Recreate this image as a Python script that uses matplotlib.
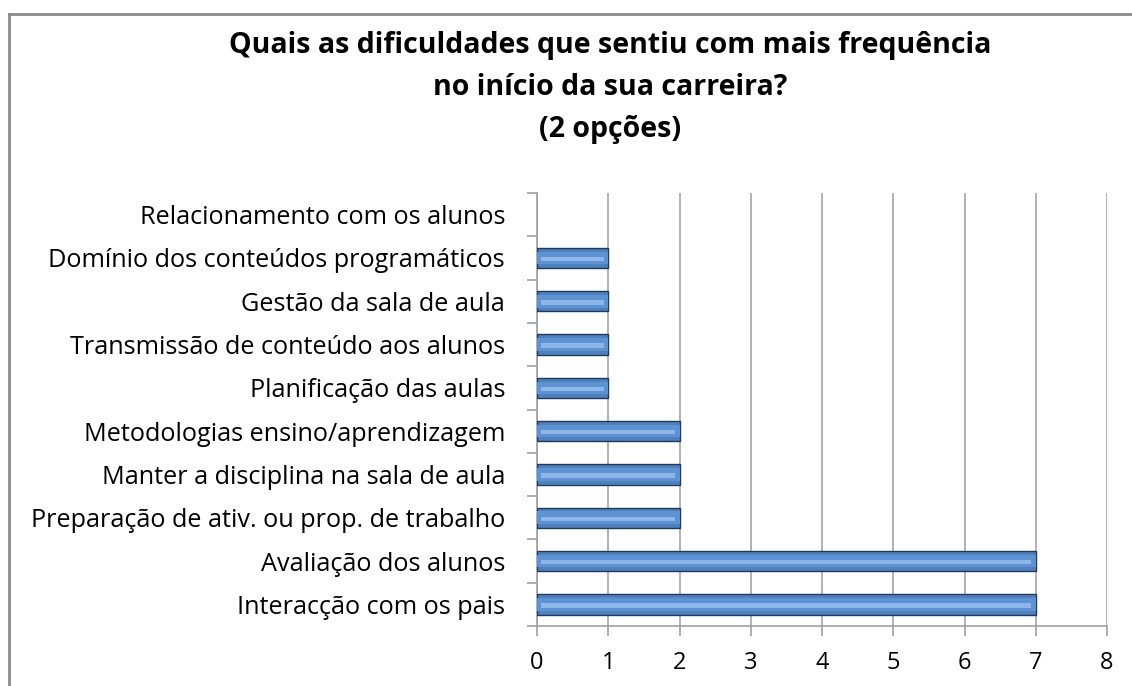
import matplotlib
matplotlib.use("Agg")
import matplotlib.pyplot as plt
from matplotlib.lines import Line2D
import numpy as np

categories = [
    "Interacção com os pais",
    "Avaliação dos alunos",
    "Preparação de ativ. ou prop. de trabalho",
    "Manter a disciplina na sala de aula",
    "Metodologias ensino/aprendizagem",
    "Planificação das aulas",
    "Transmissão de conteúdo aos alunos",
    "Gestão da sala de aula",
    "Domínio dos conteúdos programáticos",
    "Relacionamento com os alunos",
]
values = [7, 7, 2, 2, 2, 1, 1, 1, 1, 0]
title = "Quais as dificuldades que sentiu com mais frequência\nno início da sua carreira?\n(2 opções)"

plt.rcParams['font.family'] = ['Open Sans', 'DejaVu Sans']

fig = plt.figure(figsize=(11.32, 6.86), dpi=100)
W, H = 1132, 686
ax = fig.add_axes([537 / W, 1 - 626 / H, (1107 - 537) / W, (626 - 193) / H])

y = np.arange(len(categories))
vals = np.array(values, dtype=float)
pos = vals > 0
h = 0.47
# bevelled bar look
ax.barh(y[pos], vals[pos], height=h, color="#4F81BD", edgecolor="#1F3A5C", linewidth=1.0, zorder=3)
ax.barh(y[pos], vals[pos], height=h * 0.62, color="#5E92D2", linewidth=0, zorder=4)
ax.barh(y[pos] - h * 0.05, vals[pos] - 0.12, left=0.06,
        height=h * 0.22, color="#8DB6EA", linewidth=0, zorder=5)

ax.set_xlim(0, 8)
ax.set_ylim(-0.5, len(categories) - 0.5)
ax.set_xticks(range(0, 9))
ax.set_yticks(y)
ax.set_yticklabels(categories)
ax.set_yticks(np.arange(-0.5, len(categories), 1.0), minor=True)
ax.tick_params(axis='y', which='major', length=0, pad=23, labelsize=18.2, colors='#000000')
ax.tick_params(axis='y', which='minor', length=7, color='#A0A0A0', width=1.2)
ax.tick_params(axis='x', which='major', length=7, color='#A0A0A0', width=1.2, labelsize=17, pad=11)
ax.grid(axis='x', color='#A6A6A6', linewidth=1.2, zorder=0)
ax.set_axisbelow(True)
for s in ['top', 'right']:
    ax.spines[s].set_visible(False)
for s in ['left', 'bottom']:
    ax.spines[s].set_color('#A0A0A0')
    ax.spines[s].set_linewidth(1.2)

fig.text(610 / W, 1 - 31 / H, title, ha='center', va='top', fontsize=20.5, fontweight='bold',
         linespacing=1.58)

# chart frame (left and top edges visible)
fig.add_artist(Line2D([8.5 / W, 8.5 / W], [0, 1 - 13.5 / H], transform=fig.transFigure,
                      color='#8C8C8C', linewidth=2))
fig.add_artist(Line2D([8.5 / W, 1], [1 - 13.5 / H, 1 - 13.5 / H], transform=fig.transFigure,
                      color='#8C8C8C', linewidth=2))

fig.savefig("out.png", dpi=100, facecolor='white')
